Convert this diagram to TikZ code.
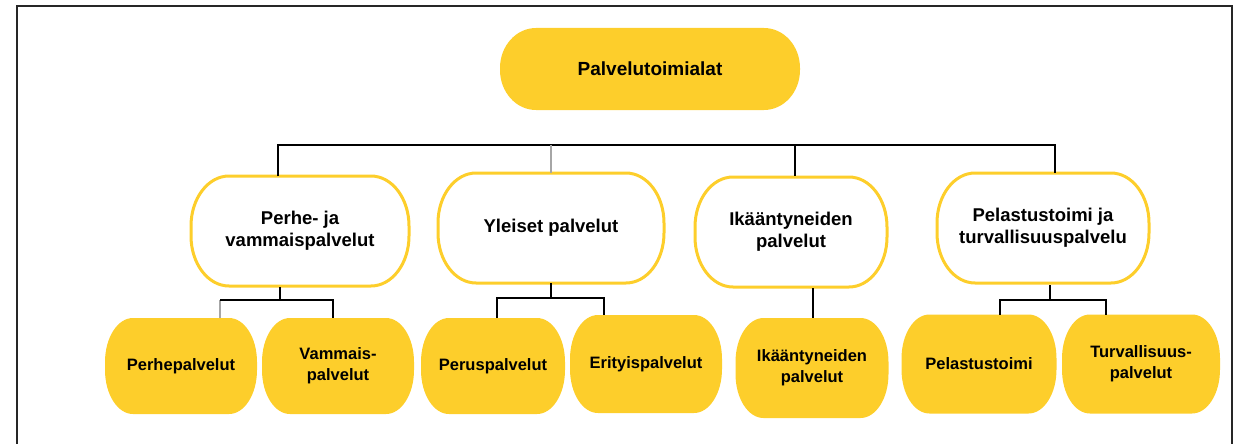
\documentclass[tikz,border=0pt]{standalone}
\usepackage{fontspec}
\setmainfont{Liberation Sans}
\usetikzlibrary{backgrounds}
\definecolor{gold}{HTML}{FDCE2B}
\tikzset{
  txt/.style={align=center, inner sep=0pt, outer sep=0pt},
  topbox/.style={txt, minimum width=300pt, minimum height=82pt, font=\bfseries\fontsize{19}{22}\selectfont},
  midbox/.style={txt, minimum height=110pt, font=\bfseries\fontsize{18.5}{22}\selectfont},
  leafbox/.style={txt, minimum height=96pt, font=\bfseries\fontsize{16.5}{21}\selectfont},
  goldfill/.style={fill=gold},
  whitebox/.style={draw=gold, line width=3pt, fill=white},
  conn/.style={line width=2.6pt, black},
  gconn/.style={line width=2.6pt, gray!70},
  frame/.style={line width=2pt, black!85}
}
% elliptical-cornered box around node #1, corner radii #2 (horizontal) and #3 (vertical)
\newcommand\ebox[4]{%
  \path[#4] ([xshift=#2]#1.north west) -- ([xshift=-#2]#1.north east)
    arc[start angle=90, end angle=0, x radius=#2, y radius=#3]
    -- ([yshift=#3]#1.south east)
    arc[start angle=0, end angle=-90, x radius=#2, y radius=#3]
    -- ([xshift=#2]#1.south west)
    arc[start angle=-90, end angle=-180, x radius=#2, y radius=#3]
    -- ([yshift=-#3]#1.north west)
    arc[start angle=180, end angle=90, x radius=#2, y radius=#3]
    -- cycle;}
\begin{document}
\begin{tikzpicture}[x=1pt, y=-1pt]
\useasboundingbox (0,0) rectangle (1245,444);
\draw[frame] (17,444) -- (17,6) -- (1232,6) -- (1232,444);

\node[topbox] (top) at (650,69) {Palvelutoimialat};

\node[midbox, minimum width=218pt] (m1) at (300,231) {Perhe- ja\\vammaispalvelut};
\node[midbox, minimum width=226pt] (m2) at (551,228) {Yleiset palvelut};
\node[midbox, minimum width=192pt] (m3) at (791,232) {Ikääntyneiden\\palvelut};
\node[midbox, minimum width=212pt] (m4) at (1043,228) {Pelastustoimi ja\\turvallisuuspalvelu};

\node[leafbox, minimum width=152pt] (l1) at (181,366) {Perhepalvelut};
\node[leafbox, minimum width=152pt] (l2) at (338,366) {Vammais-\\palvelut};
\node[leafbox, minimum width=144pt] (l3) at (493,366) {Peruspalvelut};
\node[leafbox, minimum width=152pt, minimum height=98pt] (l4) at (646,364) {Erityispalvelut};
\node[leafbox, minimum width=153pt, minimum height=100pt] (l5) at (812,368) {Ikääntyneiden\\palvelut};
\node[leafbox, minimum width=155pt, minimum height=99pt] (l6) at (979,364) {Pelastustoimi};
\node[leafbox, minimum width=158pt, minimum height=99pt] (l7) at (1141,364) {Turvallisuus-\\palvelut};

\begin{scope}[on background layer]
\ebox{top}{36pt}{40pt}{goldfill}
\ebox{m1}{38pt}{50pt}{whitebox}
\ebox{m2}{38pt}{50pt}{whitebox}
\ebox{m3}{38pt}{50pt}{whitebox}
\ebox{m4}{38pt}{50pt}{whitebox}
\ebox{l1}{28pt}{44pt}{goldfill}
\ebox{l2}{28pt}{44pt}{goldfill}
\ebox{l3}{28pt}{44pt}{goldfill}
\ebox{l4}{28pt}{44pt}{goldfill}
\ebox{l5}{28pt}{44pt}{goldfill}
\ebox{l6}{28pt}{44pt}{goldfill}
\ebox{l7}{28pt}{44pt}{goldfill}

% top-level tree
\coordinate (bus1) at (278,145);
\coordinate (bus4) at (1055,145);
\draw[conn] (bus1 |- m1.north) -- (bus1) -- (bus4) -- (bus4 |- m4.north);
\draw[gconn] (551,145) -- (m2.north);
\draw[conn] (795,145) -- (795,176);

% Perhe- ja vammaispalvelut
\coordinate (a1) at (220,300);
\coordinate (a2) at (333,300);
\draw[conn] (280,287) -- (280,300);
\draw[gconn] (a1 |- l1.north) -- (a1);
\draw[conn] (a1) -- (a2) -- (a2 |- l2.north);

% Yleiset palvelut
\coordinate (b1) at (497,298);
\coordinate (b2) at (604,298);
\draw[conn] (m2.south) -- (551,298);
\draw[conn] (b1 |- l3.north) -- (b1) -- (b2) -- (b2 |- l4.north);

% Ikaantyneiden
\draw[conn] (813,288) -- (l5.north -| 813,0);

% Pelastus
\coordinate (c1) at (1000,300);
\coordinate (c2) at (1106,300);
\draw[conn] (1050,285) -- (1050,300);
\draw[conn] (c1 |- l6.north) -- (c1) -- (c2) -- (c2 |- l7.north);
\end{scope}
\end{tikzpicture}
\end{document}
